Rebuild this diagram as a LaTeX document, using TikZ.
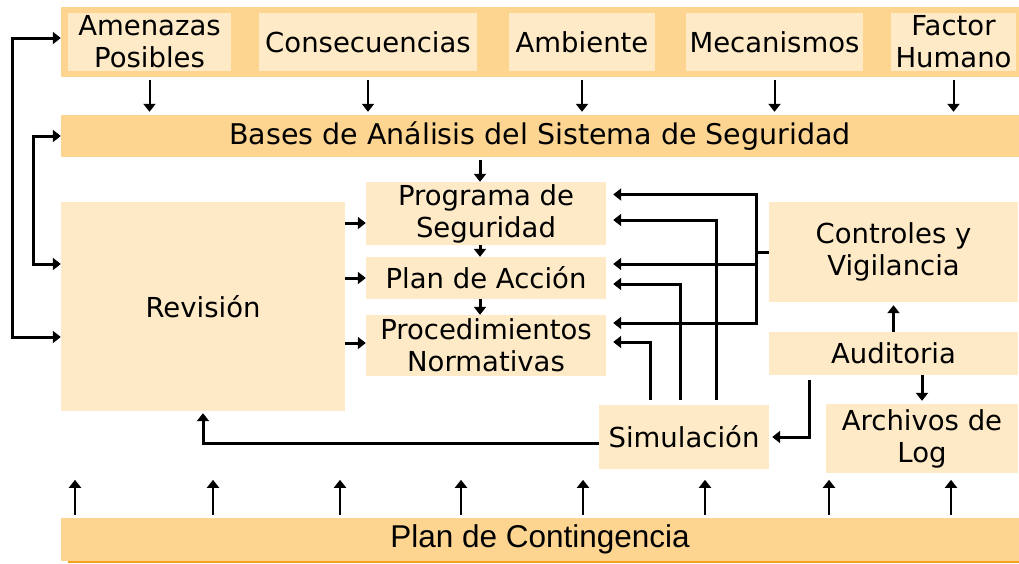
\documentclass[tikz,border=0pt]{standalone}
\usepackage{fontspec}
\setmainfont{DejaVu Sans}
\newfontfamily\contfont{Liberation Sans}
\usetikzlibrary{
    arrows.meta,
    positioning
}
\definecolor{bandorange}{HTML}{FDD591}
\definecolor{boxcream}{HTML}{FEEAC6}
\definecolor{shadoworange}{HTML}{F5A31E}
\tikzset{
    band/.style={fill=bandorange, inner sep=0pt, font=\fontsize{28.5}{32}\selectfont},
    cbox/.style={fill=boxcream, inner sep=0pt, align=center, font=\fontsize{27.5}{32}\selectfont},
    link/.style={line width=3pt, -{Triangle[length=8pt,width=12pt]}},
    twoway/.style={line width=3pt, {Triangle[length=8pt,width=12pt]}-{Triangle[length=8pt,width=12pt]}},
    thinlink/.style={line width=2pt, -{Triangle[length=8pt,width=12pt]}}
}

\begin{document}
\begin{tikzpicture}[x=1pt, y=-1pt]
                    \useasboundingbox (0,0) rectangle (1019,563);

                    % top band and its five boxes
                    \node[band, minimum width=958pt, minimum height=70pt] (top) at (540, 42) {};
                    \node[cbox, minimum width=163pt, minimum height=58pt] (amenazas) at (149.5, 42) {Amenazas\\Posibles};
                    \node[cbox, minimum width=218pt, minimum height=58pt] (consec) at (368, 42) {Consecuencias};
                    \node[cbox, minimum width=146pt, minimum height=58pt] (ambiente) at (582, 42) {Ambiente};
                    \node[cbox, minimum width=177pt, minimum height=58pt] (mecan) at (774.5, 42) {Mecanismos};
                    \node[cbox, minimum width=125pt, minimum height=58pt] (factor) at (953.5, 42) {Factor\\Humano};

                    \node[band, minimum width=958pt, minimum height=42pt] (bases) at (540, 136) {Bases de Análisis del Sistema de Seguridad};

                    \node[cbox, minimum width=284pt, minimum height=209pt] (revision) at (203, 306.5) {Revisión};
                    \node[cbox, minimum width=240pt, minimum height=63pt] (programa) at (486, 213.5) {Programa de\\Seguridad};
                    \node[cbox, minimum width=240pt, minimum height=42pt] (plan) at (486, 278) {Plan de Acción};
                    \node[cbox, minimum width=240pt, minimum height=61pt] (proced) at (486, 345.5) {Procedimientos\\Normativas};
                    \node[cbox, minimum width=170pt, minimum height=64pt] (simul) at (684, 437) {Simulación};
                    \node[cbox, minimum width=249pt, minimum height=100pt] (controles) at (893.5, 252) {Controles y\\Vigilancia};
                    \node[cbox, minimum width=249pt, minimum height=43pt] (auditoria) at (893.5, 353.5) {Auditoria};
                    \node[cbox, minimum width=192pt, minimum height=69pt] (archivos) at (922, 438.5) {Archivos de\\Log};

                    \fill[shadoworange] (68, 559) rectangle (1019, 563);
                    \node[band, minimum width=958pt, minimum height=43pt, font=\contfont\fontsize{31.5}{34}\selectfont] (conting) at (540, 539.5) {Plan de Contingencia};

                    \foreach \n in {amenazas, consec, ambiente, mecan, factor}
                        \draw[thinlink, shorten <=3pt, shorten >=3pt] (\n |- top.south) -- (\n |- bases.north);
                    \foreach \x in {75, 213, 340, 461, 583, 705, 829, 951}
                        \draw[thinlink, shorten <=3pt] (conting.north -| \x, 0) -- ++(0, -38);

                    % feedback on the left
                    \draw[twoway] ([yshift=4pt]top.west) -- ++(-48, 0) |- ([yshift=-30.5pt]revision.west);
                    \draw[twoway] (bases.west) -- ++(-27, 0) |- ([yshift=42.5pt]revision.west);

                    \draw
                    ([yshift=-9.5pt]revision.east |- programa.west) edge[link] ([yshift=-9.5pt]programa.west)
                    (revision.east |- plan.west) edge[link] (plan.west)
                    ([yshift=2.5pt]revision.east |- proced.west) edge[link] ([yshift=2.5pt]proced.west)
                    ([xshift=-6pt]programa.north |- bases.south) edge[link, shorten <=3pt] ([xshift=-6pt]programa.north)
                    ([xshift=-6pt]programa.south) edge[link] ([xshift=-6pt]plan.north)
                    ([xshift=-6pt]plan.south) edge[link] ([xshift=-6pt]proced.north)
                    (auditoria.north) edge[link, shorten >=3pt] (controles.south)
                    (auditoria.south -| archivos.north) edge[link, shorten >=3pt] (archivos.north);

                    % controles back to the three plans
                    \draw[link, shorten >=7pt] (controles.west) -- ++(-12, 0) |- ([yshift=19pt]programa.east);
                    \draw[link, shorten >=7pt] (controles.west) -- ++(-12, 0) |- ([yshift=14pt]plan.east);
                    \draw[link, shorten >=7pt] (controles.west) -- ++(-12, 0) |- ([yshift=22.5pt]proced.east);

                    % simulacion back to the three plans
                    \draw[link, shorten >=7pt] ([xshift=32pt, yshift=5pt]simul.north) |- ([yshift=-6.5pt]programa.east);
                    \draw[link, shorten >=7pt] ([xshift=-4pt, yshift=5pt]simul.north) |- ([yshift=-6pt]plan.east);
                    \draw[link, shorten >=7pt] ([xshift=-34pt, yshift=5pt]simul.north) |- ([yshift=3.5pt]proced.east);

                    \draw[link, shorten >=2pt] ([yshift=-6pt]simul.west) -| (revision.south);
                    \draw[link, shorten >=3pt] ([xshift=-84.5pt, yshift=-5pt]auditoria.south) |- (simul.east);
                \end{tikzpicture}
\end{document}
